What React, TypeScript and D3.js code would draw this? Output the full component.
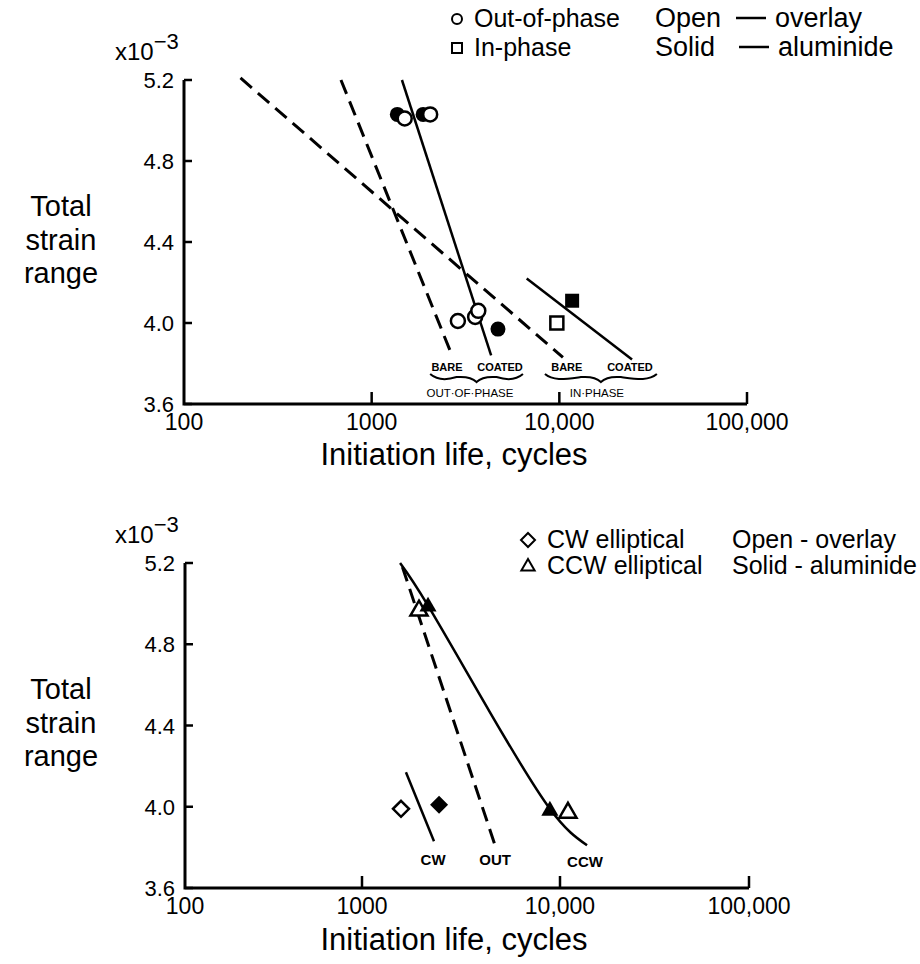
import React from "react";
import * as d3 from "d3";

// ---------- data ----------
const xTickValues = [100, 1000, 10000, 100000];
const xTickLabels = ["100", "1000", "10,000", "100,000"];
const yTickValues = [3.6, 4.0, 4.4, 4.8, 5.2];
const yTickLabels = ["3.6", "4.0", "4.4", "4.8", "5.2"];

// top panel: out-of-phase (circles), in-phase (squares); open = overlay, solid = aluminide
const outPhaseOverlay: [number, number][] = [[1500, 5.01], [2050, 5.03], [2880, 4.01], [3560, 4.03], [3700, 4.06]];
const outPhaseAluminide: [number, number][] = [[1370, 5.03], [1880, 5.03], [4710, 3.97]];
const inPhaseOverlay: [number, number][] = [[9700, 4.0]];
const inPhaseAluminide: [number, number][] = [[11700, 4.11]];

const bareOutLine: [number, number][] = [[686, 5.2], [2680, 3.84]];
const coatedOutLine: [number, number][] = [[1450, 5.2], [4330, 3.84]];
const bareInLine: [number, number][] = [[200, 5.21], [10450, 3.83]];
const coatedInLine: [number, number][] = [[6700, 4.22], [24400, 3.82]];

// bottom panel: CW (diamonds), CCW (triangles)
const cwOverlay: [number, number][] = [[1574, 3.99]];
const cwAluminide: [number, number][] = [[2450, 4.01]];
const ccwOverlay: [number, number][] = [[1940, 4.97], [11020, 3.975]];
const ccwAluminide: [number, number][] = [[2155, 4.99], [8890, 3.985]];

const cwLine: [number, number][] = [[1667, 4.17], [2310, 3.83]];
const outLine: [number, number][] = [[1600, 5.18], [4700, 3.81]];
const ccwCurve: [number, number][] = [[1557, 5.2], [2155, 4.99], [4400, 4.47], [8890, 3.99], [13900, 3.81]];

const topLineLabels = [
  { text: "BARE", x: 2520, y: 3.783 },
  { text: "COATED", x: 4830, y: 3.783 },
  { text: "BARE", x: 10960, y: 3.783 },
  { text: "COATED", x: 23800, y: 3.783 },
];
const topGroupLabels = [
  { text: "OUT·OF·PHASE", x: 3340, y: 3.654, from: 2050, to: 6400 },
  { text: "IN·PHASE", x: 15850, y: 3.654, from: 8380, to: 33100 },
];
const bottomLineLabels = [
  { text: "CW", x: 2285, y: 3.738 },
  { text: "OUT", x: 4700, y: 3.738 },
  { text: "CCW", x: 13560, y: 3.728 },
];

// ---------- layout ----------
const FONT = "'Liberation Sans', Arial, Helvetica, sans-serif";
const W = 920;
const H = 964;

const topX = d3.scaleLog().domain([100, 100000]).range([184, 747]);
const topY = d3.scaleLinear().domain([3.6, 5.2]).range([404, 80]);
const botX = d3.scaleLog().domain([100, 1000, 10000, 100000]).range([185, 362, 560, 749]);
const botY = d3.scaleLinear().domain([3.6, 5.2]).range([888, 563]);

type Sc = (v: number) => number;

function Axes({ x, y, titleY }: { x: Sc; y: Sc; titleY: number }) {
  const x0 = x(100);
  const x1 = x(100000);
  const yb = y(3.6);
  const yt = y(5.2);
  return (
    <g>
      <path d={`M${x0},${yt} L${x0},${yb} L${x1},${yb}`} fill="none" stroke="#000" strokeWidth={3} />
      {yTickValues.map((v, i) => (
        <g key={"yt" + i}>
          <line x1={x0} x2={x0 + 8} y1={y(v)} y2={y(v)} stroke="#000" strokeWidth={2.5} />
          <text x={x0 - 10} y={y(v) + 8} textAnchor="end" fontSize={22} fontFamily={FONT}>
            {yTickLabels[i]}
          </text>
        </g>
      ))}
      {xTickValues.map((v, i) => (
        <g key={"xt" + i}>
          {i > 0 && <line x1={x(v)} x2={x(v)} y1={yb} y2={yb - 12} stroke="#000" strokeWidth={2.5} />}
          <text x={x(v)} y={yb + 26} textAnchor="middle" fontSize={23} fontFamily={FONT}>
            {xTickLabels[i]}
          </text>
        </g>
      ))}
      <text x={454} y={titleY} textAnchor="middle" fontSize={31} fontFamily={FONT}>
        Initiation life, cycles
      </text>
      <text x={115} y={yt - 20} fontSize={24} fontFamily={FONT}>
        x10<tspan dy={-11} fontSize={22}>−3</tspan>
      </text>
      <g fontSize={29} fontFamily={FONT} textAnchor="middle">
        <text x={61} y={yt + 136}>Total</text>
        <text x={61} y={yt + 170}>strain</text>
        <text x={61} y={yt + 203}>range</text>
      </g>
    </g>
  );
}

function brace(x1: number, x2: number, y0: number) {
  const xm = (x1 + x2) / 2;
  const h = 7;
  return `M${x1},${y0 - 3} C${x1 + 8},${y0 + 4} ${x1 + 20},${y0 + 2} ${xm - 20},${y0} C${xm - 8},${y0 - 1} ${xm - 3},${y0 + 2} ${xm},${y0 + h - 2} C${xm + 3},${y0 + 2} ${xm + 8},${y0 - 1} ${xm + 20},${y0} C${x2 - 20},${y0 + 2} ${x2 - 8},${y0 + 4} ${x2},${y0 - 3}`;
}

export default function App() {
  const lineT = d3.line<[number, number]>().x((d) => topX(d[0])).y((d) => topY(d[1]));
  const lineB = d3.line<[number, number]>().x((d) => botX(d[0])).y((d) => botY(d[1]));
  const curveB = d3
    .line<[number, number]>()
    .x((d) => botX(d[0]))
    .y((d) => botY(d[1]))
    .curve(d3.curveNatural);
  const dash = "15 8";

  const tri = (cx: number, cy: number, s: number) =>
    `M${cx},${cy - s} L${cx + s * 0.95},${cy + s * 0.65} L${cx - s * 0.95},${cy + s * 0.65} Z`;
  const dia = (cx: number, cy: number, s: number) =>
    `M${cx},${cy - s} L${cx + s},${cy} L${cx},${cy + s} L${cx - s},${cy} Z`;

  return (
    <svg width={W} height={H} style={{ position: "absolute", left: 0, top: 0, background: "#fff" }}>
      <rect width={W} height={H} fill="#fff" />
      {/* ---------------- TOP PANEL ---------------- */}
      <Axes x={topX} y={topY} titleY={465} />
      {/* legend */}
      <g fontFamily={FONT} fontSize={25}>
        <circle cx={457} cy={19} r={5} fill="none" stroke="#000" strokeWidth={2} />
        <text x={474} y={27}>Out-of-phase</text>
        <rect x={452} y={43} width={10} height={10} fill="none" stroke="#000" strokeWidth={2} />
        <text x={474} y={56}>In-phase</text>
      </g>
      <g fontFamily={FONT} fontSize={27}>
        <text x={655} y={27}>Open</text>
        <line x1={736} x2={766} y1={18} y2={18} stroke="#000" strokeWidth={2.5} />
        <text x={775} y={27}>overlay</text>
        <text x={655} y={56}>Solid</text>
        <line x1={739} x2={769} y1={47} y2={47} stroke="#000" strokeWidth={2.5} />
        <text x={778} y={56}>aluminide</text>
      </g>
      {/* lines */}
      <path d={lineT(bareInLine)!} stroke="#000" strokeWidth={3} strokeDasharray={dash} fill="none" />
      <path d={lineT(bareOutLine)!} stroke="#000" strokeWidth={3} strokeDasharray={dash} fill="none" />
      <path d={lineT(coatedOutLine)!} stroke="#000" strokeWidth={2.5} fill="none" />
      <path d={lineT(coatedInLine)!} stroke="#000" strokeWidth={2.5} fill="none" />
      {/* markers */}
      {outPhaseAluminide.map((d, i) => (
        <circle key={"oa" + i} cx={topX(d[0])} cy={topY(d[1])} r={7.5} fill="#000" />
      ))}
      {outPhaseOverlay.map((d, i) => (
        <circle key={"oo" + i} cx={topX(d[0])} cy={topY(d[1])} r={7} fill="#fff" stroke="#000" strokeWidth={2.5} />
      ))}
      {inPhaseOverlay.map((d, i) => (
        <rect key={"io" + i} x={topX(d[0]) - 6.5} y={topY(d[1]) - 6.5} width={13} height={13} fill="#fff" stroke="#000" strokeWidth={2.5} />
      ))}
      {inPhaseAluminide.map((d, i) => (
        <rect key={"ia" + i} x={topX(d[0]) - 7} y={topY(d[1]) - 7} width={14} height={14} fill="#000" />
      ))}
      {/* annotations */}
      <g fontFamily={FONT} fontSize={11} fontWeight="bold" textAnchor="middle">
        {topLineLabels.map((l, i) => (
          <text key={"tl" + i} x={topX(l.x)} y={topY(l.y) + 4}>
            {l.text}
          </text>
        ))}
        {topGroupLabels.map((l, i) => (
          <g key={"tg" + i}>
            <path d={brace(topX(l.from), topX(l.to), topY(3.733))} fill="none" stroke="#000" strokeWidth={2} />
            <text x={topX(l.x)} y={topY(l.y) + 4} fontWeight="normal" fontSize={11.5}>
              {l.text}
            </text>
          </g>
        ))}
      </g>

      {/* ---------------- BOTTOM PANEL ---------------- */}
      <Axes x={botX} y={botY} titleY={950} />
      <g fontFamily={FONT} fontSize={25}>
        <path d={dia(528, 540, 7)} fill="none" stroke="#000" strokeWidth={2} />
        <text x={547} y={548}>CW elliptical</text>
        <path d={tri(528, 566, 7)} fill="none" stroke="#000" strokeWidth={2} />
        <text x={547} y={574}>CCW elliptical</text>
        <text x={732} y={548}>Open - overlay</text>
        <text x={732} y={574}>Solid - aluminide</text>
      </g>
      <path d={lineB(outLine)!} stroke="#000" strokeWidth={3} strokeDasharray={dash} fill="none" />
      <path d={lineB(cwLine)!} stroke="#000" strokeWidth={2.5} fill="none" />
      <path d={curveB(ccwCurve)!} stroke="#000" strokeWidth={2.5} fill="none" />
      {cwOverlay.map((d, i) => (
        <path key={"co" + i} d={dia(botX(d[0]), botY(d[1]), 8)} fill="#fff" stroke="#000" strokeWidth={2.5} />
      ))}
      {cwAluminide.map((d, i) => (
        <path key={"ca" + i} d={dia(botX(d[0]), botY(d[1]), 9)} fill="#000" />
      ))}
      {ccwOverlay.map((d, i) => (
        <path key={"cco" + i} d={tri(botX(d[0]), botY(d[1]), 9)} fill="#fff" stroke="#000" strokeWidth={2.5} />
      ))}
      {ccwAluminide.map((d, i) => (
        <path key={"cca" + i} d={tri(botX(d[0]), botY(d[1]), 9)} fill="#000" />
      ))}
      <g fontFamily={FONT} fontSize={15} fontWeight="bold" textAnchor="middle">
        {bottomLineLabels.map((l, i) => (
          <text key={"bl" + i} x={botX(l.x)} y={botY(l.y) + 5}>
            {l.text}
          </text>
        ))}
      </g>
    </svg>
  );
}
